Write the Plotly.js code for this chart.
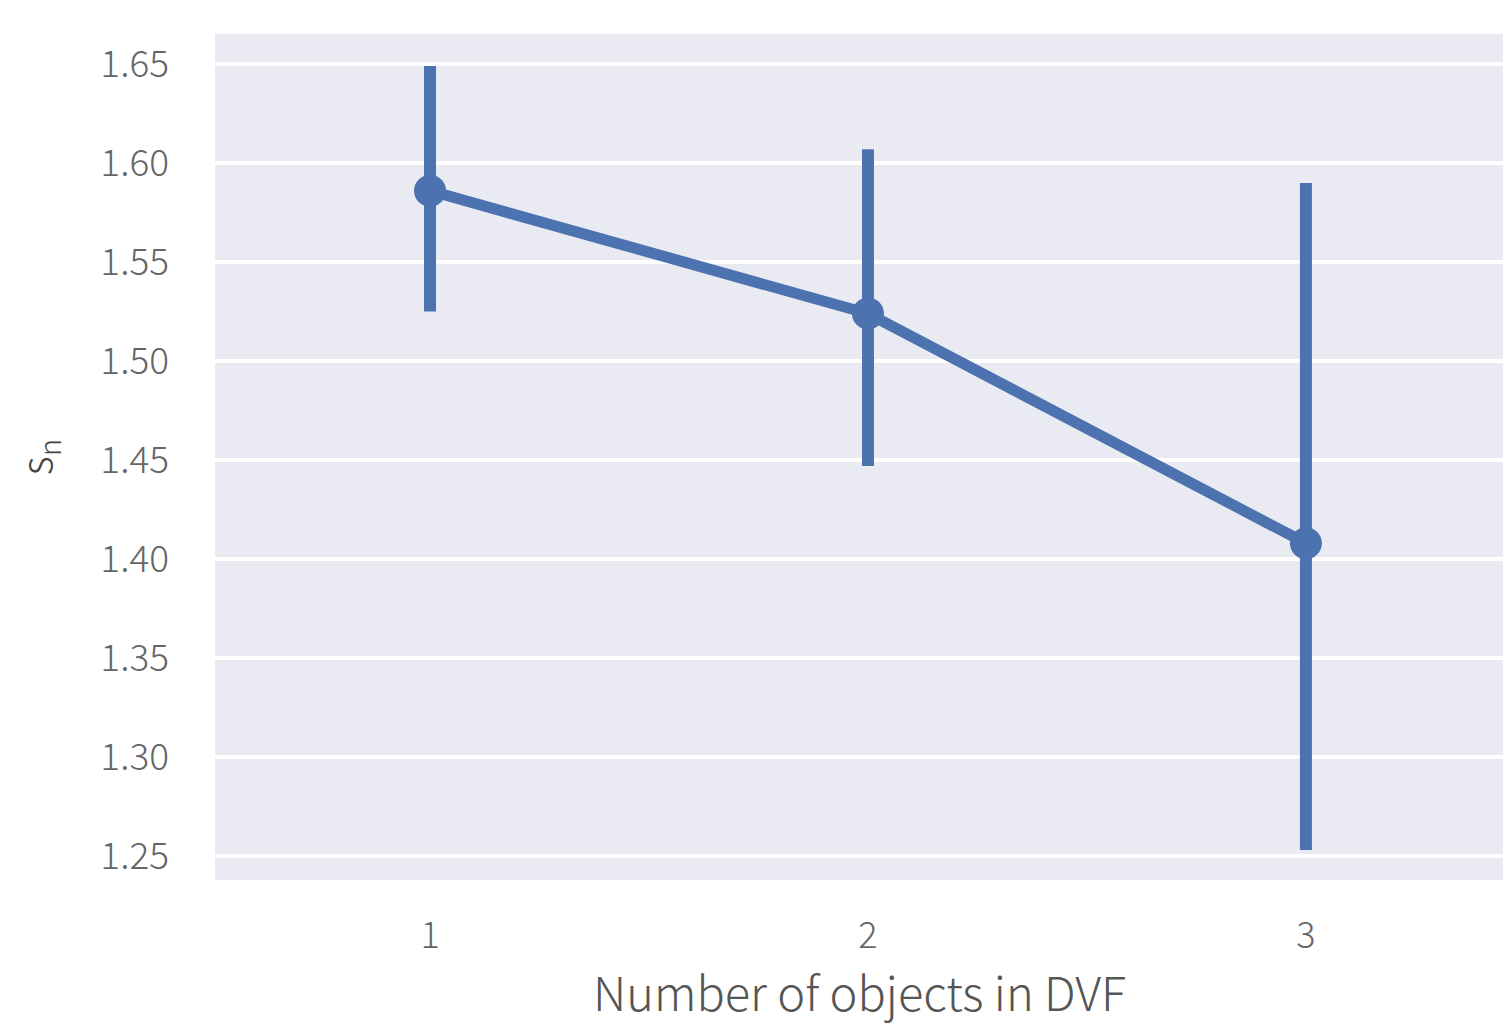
<!DOCTYPE html>
<html>
<head>
<meta charset="utf-8">
<script src="https://cdn.plot.ly/plotly-3.0.1.min.js"></script>
<style>html,body{margin:0;padding:0;background:#fff;}#chart{width:1503px;height:1025px;}</style>
</head>
<body>
<div id="chart"></div>
<script>
const categories = [1, 2, 3];
const means = [1.586, 1.524, 1.408];
const ciUpper = [1.649, 1.607, 1.590];
const ciLower = [1.525, 1.447, 1.253];
const yTicks = [1.25, 1.30, 1.35, 1.40, 1.45, 1.50, 1.55, 1.60, 1.65];
const xTitle = 'Number of objects in DVF';
const yTitle = 's<sub>n</sub>';

const color = '#4C72B0';
const trace = {
  x: categories,
  y: means,
  type: 'scatter',
  mode: 'lines+markers',
  line: {color: color, width: 11},
  marker: {color: color, size: 32},
  error_y: {
    type: 'data',
    symmetric: false,
    array: ciUpper.map((u, i) => u - means[i]),
    arrayminus: ciLower.map((l, i) => means[i] - l),
    color: color,
    thickness: 12,
    width: 0
  },
  hoverinfo: 'skip'
};

const fontFam = '"Noto Sans CJK JP", "Noto Sans", sans-serif';
const layout = {
  width: 1503,
  height: 1025,
  margin: {l: 215, r: 0, t: 34, b: 145},
  paper_bgcolor: '#ffffff',
  plot_bgcolor: '#EAEAF2',
  showlegend: false,
  font: {family: fontFam, color: '#555'},
  xaxis: {
    range: [0.509, 3.45],
    tickvals: categories,
    ticktext: categories.map(String),
    showgrid: false,
    zeroline: false,
    showline: false,
    ticks: '',
    ticklabelstandoff: 31,
    tickfont: {size: 36, color: '#666', family: fontFam, weight: 300}
  },
  yaxis: {
    range: [1.2379, 1.6652],
    tickvals: yTicks,
    ticktext: yTicks.map(v => v.toFixed(2)),
    showgrid: true,
    gridcolor: '#ffffff',
    gridwidth: 4,
    zeroline: false,
    showline: false,
    ticks: '',
    ticklabelstandoff: 45,
    tickfont: {size: 37, color: '#666', family: fontFam, weight: 300},
    title: {text: yTitle, font: {size: 42, color: '#444', family: fontFam, weight: 300}, standoff: 34}
  },
  annotations: [{
    text: xTitle,
    xref: 'paper', yref: 'paper',
    x: 0.5, y: -0.1312,
    xanchor: 'center', yanchor: 'middle',
    showarrow: false,
    borderpad: 0,
    font: {size: 47, color: '#555', family: fontFam, weight: 300}
  }]
};

Plotly.newPlot('chart', [trace], layout, {displayModeBar: false, staticPlot: true});
</script>
</body>
</html>
